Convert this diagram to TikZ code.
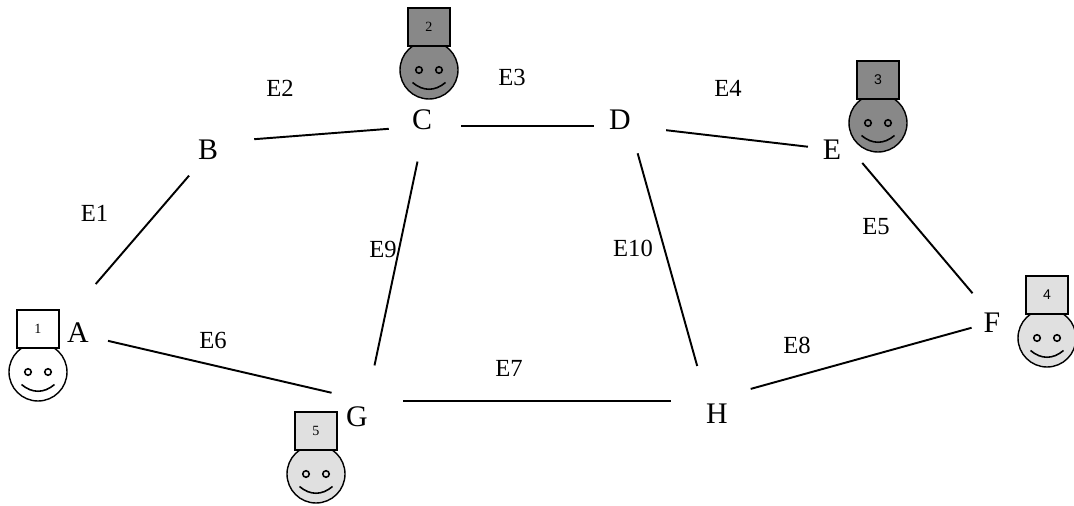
\documentclass[tikz,border=0pt]{standalone}
\usepackage{fontspec}
\setmainfont{Liberation Serif}
\newfontfamily\tagsans{Liberation Sans}
\usetikzlibrary{positioning}

\definecolor{darkface}{RGB}{136,136,136}
\definecolor{lightface}{RGB}{224,224,224}

% smiley with numbered box on its head: name, position, fill, number font, number
\newcommand{\smiley}[5]{%
  \node[face, fill=#3] (#1) at (#2) {};
  \begin{scope}[shift={(#1)}]
    \draw[line width=0.9pt] (-0.2,0) circle (0.065) (0.2,0) circle (0.065);
    \draw[line width=0.9pt] (-0.33,-0.25) .. controls (-0.12,-0.43) and (0.12,-0.43) .. (0.33,-0.25);
  \end{scope}
  \node[tag, fill=#3, font=#4, above=-0.1cm of #1] (#1-tag) {#5};
}

\begin{document}
\begin{tikzpicture}[
  hub/.style={circle, minimum size=1.44cm, inner sep=0pt},
  vname/.style={inner sep=0pt, font=\fontsize{17}{20}\selectfont},
  elabel/.style={inner sep=0pt, font=\fontsize{14}{16}\selectfont},
  edge/.style={line width=1.1pt},
  face/.style={circle, draw, line width=0.8pt, minimum size=1.16cm, inner sep=0pt, outer sep=0pt},
  tag/.style={rectangle, draw, line width=0.8pt, minimum width=0.84cm, minimum height=0.76cm,
    inner sep=0pt, outer sep=0pt}
]
\useasboundingbox (0,0) rectangle (21.48,10.1);

% vertices: the edges meet at these points
\node[hub] (A) at (1.14,3.52) {};
\node[hub] (B) at (4.36,7.26) {};
\node[hub] (C) at (8.50,7.58) {};
\node[hub] (D) at (12.60,7.58) {};
\node[hub] (E) at (17.06,7.06) {};
\node[hub] (F) at (19.92,3.68) {};
\node[hub] (G) at (7.34,2.08) {};
\node[hub] (H) at (14.14,2.08) {};

% vertex letters
\node[vname] (A-name) at (1.56,3.44) {A};
\node[vname] (B-name) at (4.16,7.10) {B};
\node[vname] (C-name) at (8.44,7.70) {C};
\node[vname] (D-name) at (12.40,7.70) {D};
\node[vname] (E-name) at (16.64,7.10) {E};
\node[vname] (F-name) at (19.84,3.64) {F};
\node[vname] (G-name) at (7.14,1.76) {G};
\node[vname] (H-name) at (14.34,1.82) {H};

\draw[edge, shorten <=0.46cm, shorten >=0.16cm] (A) -- (B);
\draw[edge] (B) -- (C);
\draw[edge] (C) -- (D);
\draw[edge, shorten >=0.18cm] (D) -- (E);
\draw[edge, shorten <=-0.44cm] (E) -- (F);
\draw[edge, shorten <=0.32cm] (A) -- (G);
\draw[edge] (G) -- (H);
\draw[edge, shorten <=0.18cm, shorten >=-0.22cm] (H) -- (F);
\draw[edge] (C) -- (G);
\draw[edge, shorten <=-0.16cm] (D) -- (H);

\node[elabel] (e1) at (1.89,5.84) {E1};
\node[elabel] (e2) at (5.60,8.34) {E2};
\node[elabel] (e3) at (10.24,8.56) {E3};
\node[elabel] (e4) at (14.56,8.34) {E4};
\node[elabel] (e5) at (17.52,5.56) {E5};
\node[elabel] (e6) at (4.26,3.30) {E6};
\node[elabel] (e7) at (10.18,2.74) {E7};
\node[elabel] (e8) at (15.94,3.20) {E8};
\node[elabel] (e9) at (7.66,5.12) {E9};
\node[elabel] (e10) at (12.66,5.14) {E10};

\smiley{face1}{0.76,2.66}{white}{\fontsize{8}{9}\selectfont}{1}
\smiley{face2}{8.58,8.70}{darkface}{\fontsize{8}{9}\selectfont}{2}
\smiley{face3}{17.56,7.64}{darkface}{\tagsans\fontsize{8}{9}\selectfont}{3}
\smiley{face4}{20.94,3.34}{lightface}{\tagsans\fontsize{8}{9}\selectfont}{4}
\smiley{face5}{6.32,0.62}{lightface}{\fontsize{8}{9}\selectfont}{5}
\end{tikzpicture}
\end{document}
